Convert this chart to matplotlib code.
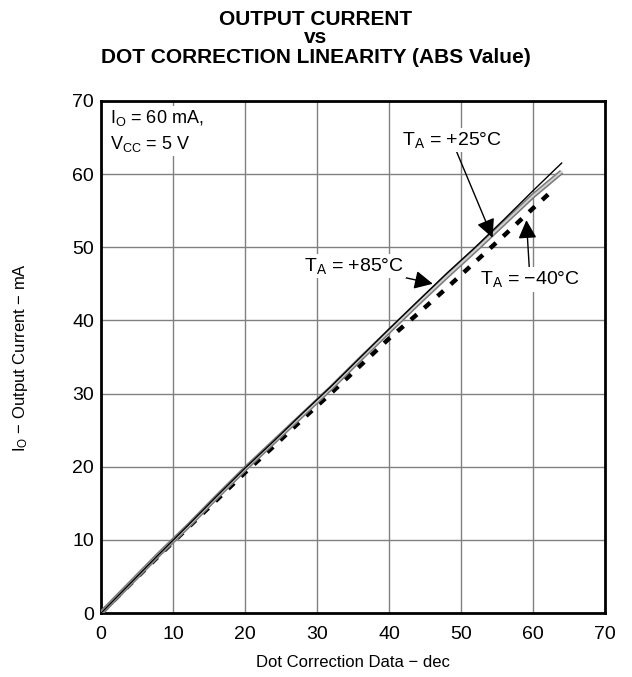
import numpy as np
import matplotlib.pyplot as plt

plt.rcParams["font.family"] = ["Liberation Sans", "DejaVu Sans"]
plt.rcParams["mathtext.default"] = "regular"

# dot correction data (dec)
dc_x = [0, 4, 8, 12, 16, 20, 24, 28, 32, 36, 40, 44, 48, 52, 56, 60, 64]
# output current (mA) per temperature
i_25 = [0.0, 4.0, 8.0, 11.9, 15.9, 19.8, 23.5, 27.3, 31.0, 34.9, 38.8, 42.6, 46.4, 50.0, 53.8, 57.7, 61.5]
i_85 = [0.0, 4.0, 8.0, 11.8, 15.8, 19.7, 23.4, 27.1, 30.8, 34.7, 38.5, 42.3, 46.0, 49.6, 53.3, 57.0, 60.3]
dc_x_m40 = [0, 4, 8, 12, 16, 20, 24, 28, 32, 36, 40, 44, 48, 52, 56, 60, 63]
i_m40 = [0.0, 3.9, 7.8, 11.6, 15.4, 19.2, 22.8, 26.5, 30.1, 33.8, 37.5, 40.9, 44.4, 48.0, 51.6, 55.3, 58.0]

fig = plt.figure(figsize=(6.32, 6.77), dpi=100)
ax = fig.add_axes([0.160, 0.0945, 0.797, 0.7565])

ax.plot(dc_x, i_85, color="#7a7a7a", lw=3.6, solid_capstyle="butt", zorder=3)
ax.plot(dc_x, i_85, color="#d0d0d0", lw=1.4, zorder=3)
ax.plot(dc_x, i_25, color="black", lw=1.0, zorder=4)
ax.plot(dc_x_m40, i_m40, color="black", lw=3.2, dashes=(1.8, 2.2), zorder=2)

ax.set_xlim(0, 70)
ax.set_ylim(0, 70)
ax.set_xticks(range(0, 71, 10))
ax.set_yticks(range(0, 71, 10))
ax.grid(True, color="#808080", lw=1.0)
ax.set_axisbelow(True)
ax.tick_params(length=0, labelsize=14)
ax.tick_params(axis="x", pad=9)
ax.tick_params(axis="y", pad=5)
for s in ax.spines.values():
    s.set_linewidth(2.0)

fig.text(0.5585, 0.0207, "Dot Correction Data \u2212 dec", fontsize=12, ha="center", va="center")
fig.text(0.032, 0.4727, "I$_O$ \u2212 Output Current \u2212 mA", fontsize=12,
         ha="center", va="center", rotation=90)

title_lines = ["OUTPUT CURRENT", "vs", "DOT CORRECTION LINEARITY (ABS Value)"]
title_y = [0.963, 0.937, 0.907]
for line, yy in zip(title_lines, title_y):
    fig.text(0.5, yy, line, ha="center", va="baseline", fontsize=15, fontweight="bold")

box = dict(facecolor="white", edgecolor="none", pad=1.5)
ax.text(1.3, 69.0, "I$_O$ = 60 mA,\nV$_{CC}$ = 5 V", fontsize=13, ha="left", va="top",
        linespacing=1.4, bbox=box, zorder=5)

arrow = dict(arrowstyle="-|>", color="black", lw=1.0, mutation_scale=28, shrinkA=0, shrinkB=0)
ax.annotate("T$_A$ = +25\u00b0C", xy=(54.4, 51.3), xytext=(48.7, 64.7), fontsize=14,
            ha="center", va="center", bbox=box, arrowprops=arrow, zorder=5)
ax.annotate("T$_A$ = +85\u00b0C", xy=(46.1, 45.0), xytext=(35.1, 47.4), fontsize=14,
            ha="center", va="center", bbox=box, arrowprops=arrow, zorder=5)
ax.annotate("T$_A$ = \u221240\u00b0C", xy=(59.1, 53.7), xytext=(59.6, 45.6), fontsize=14,
            ha="center", va="center", bbox=box, arrowprops=arrow, zorder=5)

fig.savefig("out.png", dpi=100)
